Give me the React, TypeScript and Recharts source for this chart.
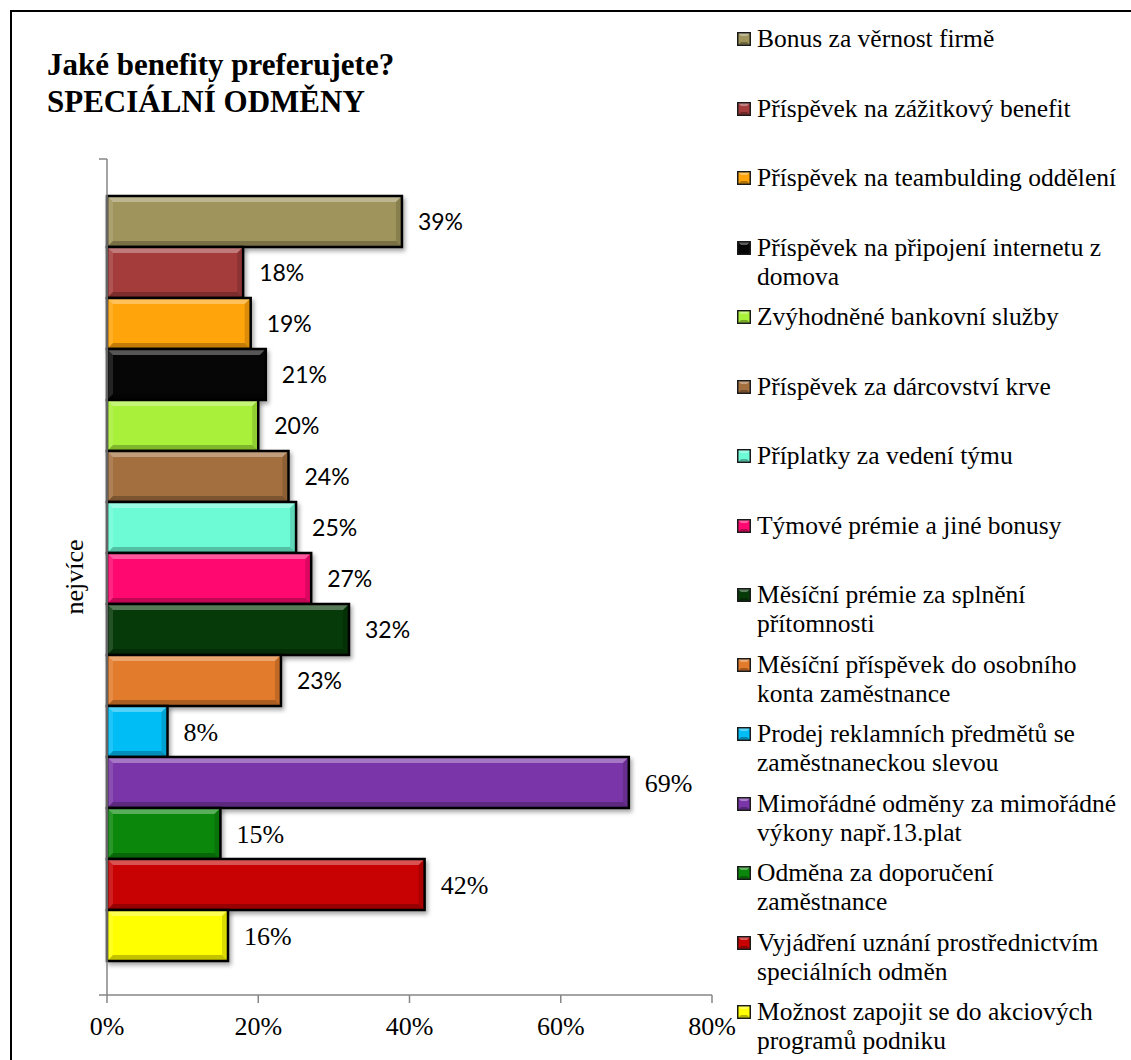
import React from 'react';
import { BarChart, Bar, XAxis, YAxis, LabelList, Legend, Customized } from 'recharts';

// Survey: "Jaké benefity preferujete?" – special rewards, share of answers "nejvíce"
const benefits = [
  'Bonus za věrnost firmě',
  'Příspěvek na zážitkový benefit',
  'Příspěvek na teambulding oddělení',
  'Příspěvek na připojení internetu z\ndomova',
  'Zvýhodněné bankovní služby',
  'Příspěvek za dárcovství krve',
  'Příplatky za vedení týmu',
  'Týmové prémie a jiné bonusy',
  'Měsíční prémie za splnění\npřítomnosti',
  'Měsíční příspěvek do osobního\nkonta zaměstnance',
  'Prodej reklamních předmětů se\nzaměstnaneckou slevou',
  'Mimořádné odměny za mimořádné\nvýkony např.13.plat',
  'Odměna za doporučení\nzaměstnance',
  'Vyjádření uznání prostřednictvím\nspeciálních odměn',
  'Možnost zapojit se do akciových\nprogramů podniku',
];

const shares = [0.39, 0.18, 0.19, 0.21, 0.2, 0.24, 0.25, 0.27, 0.32, 0.23, 0.08, 0.69, 0.15, 0.42, 0.16];

const colors = [
  '#9f945c', '#a43c3c', '#ffa40a', '#060606', '#a9f03a',
  '#a46f3e', '#6dfbd6', '#ff0870', '#063a08', '#e27c2c',
  '#00bdf5', '#7a36a8', '#0b880b', '#c80202', '#ffff00',
];

const categories = ['nejvíce'];
const xTicks = [0, 0.2, 0.4, 0.6, 0.8];

const title = ['Jaké benefity preferujete?', 'SPECIÁLNÍ ODMĚNY'];

const SERIF = '"Liberation Serif", "Times New Roman", serif';
const SANS = 'Lato, Carlito, "Liberation Sans", sans-serif';
const AXIS_GREY = '#868686';

// chart frame
const CHART_W = 1131;
const CHART_H = 1060;
const MARGIN = { top: 159, right: 419, bottom: 25, left: 87 };
const Y_AXIS_W = 20;
const X_AXIS_H = 40;
const TICK_LEN = 8;

// legend layout
const LEGEND_LEFT = 737;
const LEGEND_TOP = 24;
const LEGEND_STEP = 69.5;
const LEGEND_LINE = 29;

const keyOf = (i: number) => `s${i}`;
const pct = (v: any) => `${Math.round(Number(v) * 100)}%`;

// one category row holding every benefit as its own series
const rows = categories.map((name) => {
  const row: Record<string, any> = { name };
  shares.forEach((v, i) => {
    row[keyOf(i)] = v;
  });
  return row;
});

// bar with a bevelled face, black outline and soft shadow
const BevelBar = (props: any) => {
  const { x, y, width, height, fill } = props;
  if (!(width > 0) || !(height > 0)) return null;
  const b = Math.min(6, width / 2, height / 2);
  const x2 = x + width;
  const y2 = y + height;
  return (
    <g style={{ filter: 'drop-shadow(2px 3px 2px rgba(0,0,0,0.35))' }}>
      <rect x={x} y={y} width={width} height={height} fill={fill} />
      <polygon points={`${x},${y} ${x2},${y} ${x2 - b},${y + b} ${x + b},${y + b}`} fill="#fff" fillOpacity={0.32} />
      <polygon points={`${x},${y} ${x + b},${y + b} ${x + b},${y2 - b} ${x},${y2}`} fill="#fff" fillOpacity={0.12} />
      <polygon points={`${x2},${y} ${x2},${y2} ${x2 - b},${y2 - b} ${x2 - b},${y + b}`} fill="#000" fillOpacity={0.14} />
      <polygon points={`${x},${y2} ${x2},${y2} ${x2 - b},${y2 - b} ${x + b},${y2 - b}`} fill="#000" fillOpacity={0.24} />
      <rect x={x} y={y} width={width} height={height} fill="none" stroke="#000" strokeWidth={2.5} />
    </g>
  );
};

const LegendSwatch = ({ color }: { color: string }) => (
  <svg width={14} height={14} style={{ position: 'absolute', left: 0, top: 8 }}>
    <rect x={0.75} y={0.75} width={12.5} height={12.5} fill={color} stroke="#1a1a1a" strokeWidth={1.5} />
    <polygon points="1.5,1.5 12.5,1.5 10,4 4,4" fill="#fff" fillOpacity={0.35} />
    <polygon points="1.5,12.5 12.5,12.5 10,10 4,10" fill="#000" fillOpacity={0.3} />
  </svg>
);

// legend in series order
const LegendBox = () => (
  <div style={{ position: 'relative', width: CHART_W - LEGEND_LEFT, height: CHART_H }}>
    {benefits.map((label, i) => (
      <div
        key={label}
        style={{
          position: 'absolute',
          left: 0,
          top: LEGEND_TOP + i * LEGEND_STEP,
          width: CHART_W - LEGEND_LEFT,
        }}
      >
        <LegendSwatch color={colors[i]} />
        <div
          style={{
            marginLeft: 20,
            fontFamily: SERIF,
            fontSize: 25.5,
            lineHeight: `${LEGEND_LINE}px`,
            color: '#000',
            whiteSpace: 'pre',
          }}
        >
          {label}
        </div>
      </div>
    ))}
  </div>
);

// category name written upright along the value axis
const CategoryTick = (props: any) => {
  const { x, y, payload } = props;
  return (
    <text
      x={x}
      y={y}
      transform={`rotate(-90 ${x} ${y})`}
      textAnchor="middle"
      dominantBaseline="central"
      fontFamily={SERIF}
      fontSize={26}
      fill="#000"
    >
      {payload?.value}
    </text>
  );
};

// tick marks on the category axis at the band edges
const BandEdgeTicks = () => {
  const axisX = MARGIN.left + Y_AXIS_W;
  const top = MARGIN.top;
  const bottom = CHART_H - MARGIN.bottom - X_AXIS_H;
  return (
    <g stroke={AXIS_GREY} strokeWidth={1.5}>
      <line x1={axisX - TICK_LEN} y1={top} x2={axisX} y2={top} />
      <line x1={axisX - TICK_LEN} y1={bottom} x2={axisX} y2={bottom} />
    </g>
  );
};

export default function App() {
  return (
    <div
      style={{
        position: 'absolute',
        left: 0,
        top: 0,
        width: CHART_W,
        height: CHART_H,
        overflow: 'hidden',
        background: '#fff',
      }}
    >
      <div
        style={{
          position: 'absolute',
          left: 10,
          top: 10,
          width: 1200,
          height: 1100,
          border: '2px solid #000',
        }}
      />
      <div
        style={{
          position: 'absolute',
          left: 47,
          top: 46,
          fontFamily: SERIF,
          fontWeight: 'bold',
          fontSize: 31,
          lineHeight: '37px',
          color: '#000',
          whiteSpace: 'nowrap',
          zIndex: 2,
        }}
      >
        {title.map((t) => (
          <div key={t}>{t}</div>
        ))}
      </div>
      <div style={{ position: 'absolute', left: 0, top: 0 }}>
        <BarChart
          layout="vertical"
          width={CHART_W}
          height={CHART_H}
          data={rows}
          margin={MARGIN}
          barCategoryGap={37}
          barGap={0}
        >
          <XAxis
            type="number"
            domain={[0, 0.8]}
            ticks={xTicks}
            tickFormatter={pct}
            height={X_AXIS_H}
            tickSize={TICK_LEN}
            tickMargin={14}
            axisLine={{ stroke: AXIS_GREY, strokeWidth: 1.5 }}
            tickLine={{ stroke: AXIS_GREY, strokeWidth: 1.5 }}
            tick={{ fontFamily: SERIF, fontSize: 26, fill: '#000' }}
          />
          <YAxis
            type="category"
            dataKey="name"
            width={Y_AXIS_W}
            tickSize={0}
            tickMargin={33}
            tickLine={false}
            axisLine={{ stroke: AXIS_GREY, strokeWidth: 1.5 }}
            tick={<CategoryTick />}
          />
          {shares.map((_, i) => (
            <Bar
              key={keyOf(i)}
              dataKey={keyOf(i)}
              name={benefits[i]}
              fill={colors[i]}
              shape={<BevelBar />}
              isAnimationActive={false}
            >
              <LabelList
                dataKey={keyOf(i)}
                position="right"
                offset={16}
                formatter={pct}
                fill="#000"
                fontFamily={i < 10 ? SANS : SERIF}
                fontSize={i < 10 ? 23 : 26}
              />
            </Bar>
          ))}
          <Customized component={<BandEdgeTicks />} />
          <Legend
            layout="vertical"
            align="center"
            verticalAlign="middle"
            wrapperStyle={{ left: LEGEND_LEFT, top: 0, width: CHART_W - LEGEND_LEFT, height: CHART_H }}
            content={() => <LegendBox />}
          />
        </BarChart>
      </div>
    </div>
  );
}
